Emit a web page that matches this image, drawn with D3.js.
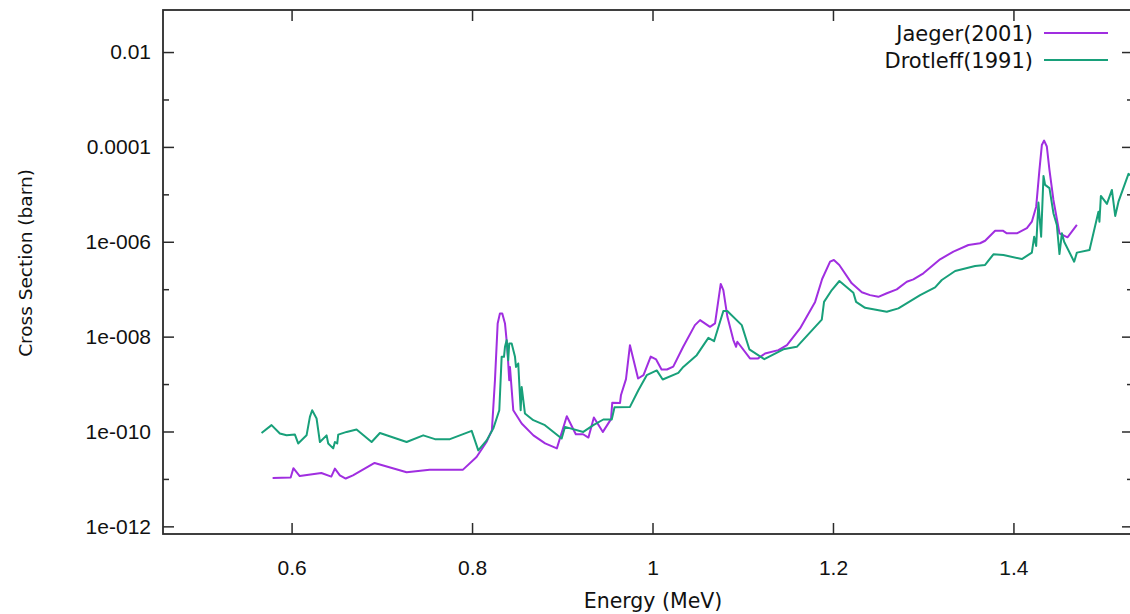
<!DOCTYPE html>
<html>
<head>
<meta charset="utf-8">
<script src="https://cdn.jsdelivr.net/npm/d3@7"></script>
<style>
  body { margin: 0; background: #fff; }
  svg { display: block; font-family: "DejaVu Sans", Verdana, sans-serif; }
  .axis text { font-size: 21px; fill: #111; }
  .axis line { stroke: #2b2b2b; stroke-width: 1.5; }
  .axis path { display: none; }
</style>
</head>
<body>
<svg id="chart" width="1130" height="614"></svg>
<script>
///////////////////////////////////////////////////////////////////////////////
// Data (energy in MeV, cross section in barn)

var jaegerE = [0.579, 0.599, 0.602, 0.609, 0.633, 0.644, 0.648, 0.6535, 0.660, 0.668,
  0.692, 0.7275, 0.753, 0.790, 0.805, 0.816, 0.822, 0.8254, 0.8284, 0.8309,
  0.8335, 0.8365, 0.839, 0.8412, 0.842, 0.8457, 0.855, 0.868, 0.881, 0.894,
  0.905, 0.915, 0.923, 0.929, 0.935, 0.945, 0.954, 0.9554, 0.964, 0.965,
  0.9706, 0.975, 0.984, 0.990, 0.998, 1.004, 1.010, 1.016, 1.023, 1.034,
  1.047, 1.0527, 1.0637, 1.0693, 1.073, 1.0756, 1.0785, 1.083, 1.0896, 1.0926,
  1.094, 1.108, 1.117, 1.1247, 1.1395, 1.149, 1.1635, 1.1802, 1.188, 1.1968,
  1.201, 1.207, 1.2208, 1.232, 1.2411, 1.2503, 1.2597, 1.2707, 1.2818, 1.2891,
  1.3002, 1.3187, 1.3335, 1.3501, 1.363, 1.3686, 1.3797, 1.3882, 1.3927, 1.4038,
  1.4149, 1.4204, 1.4252, 1.4288, 1.4315, 1.434, 1.437, 1.4399, 1.4443, 1.451,
  1.4599, 1.4703];
var jaegerXS = [1.05e-11, 1.07e-11, 1.68e-11, 1.15e-11, 1.33e-11, 1.12e-11, 1.65e-11, 1.19e-11, 1.02e-11, 1.19e-11,
  2.17e-11, 1.38e-11, 1.57e-11, 1.57e-11, 2.9e-11, 6.0e-11, 1.06e-10, 1.21e-9, 1.9e-8, 3.09e-8,
  3.09e-8, 1.9e-8, 6.1e-9, 1.21e-9, 2.3e-9, 2.8e-10, 1.47e-10, 8.3e-11, 5.6e-11, 4.4e-11,
  2.1e-10, 8.75e-11, 8.75e-11, 7.46e-11, 1.97e-10, 9.8e-11, 1.82e-10, 4.05e-10, 4.0e-10, 5.8e-10,
  1.27e-9, 6.6e-9, 1.31e-9, 1.54e-9, 3.8e-9, 3.3e-9, 2.03e-9, 2.03e-9, 2.33e-9, 6.1e-9,
  1.75e-8, 2.23e-8, 1.61e-8, 1.9e-8, 5.9e-8, 1.29e-7, 9.6e-8, 2.62e-8, 8.45e-9, 6.1e-9,
  7.8e-9, 3.47e-9, 3.47e-9, 4.4e-9, 5.2e-9, 6.6e-9, 1.49e-8, 5.4e-8, 1.64e-7, 3.8e-7,
  4.12e-7, 3.24e-7, 1.33e-7, 8.6e-8, 7.5e-8, 6.9e-8, 8.2e-8, 9.9e-8, 1.44e-7, 1.61e-7,
  2.16e-7, 4.27e-7, 6.2e-7, 8.55e-7, 9.3e-7, 1.05e-6, 1.71e-6, 1.71e-6, 1.51e-6, 1.51e-6,
  1.93e-6, 2.65e-6, 5.5e-6, 3.27e-5, 1.1e-4, 1.36e-4, 1.02e-4, 3.27e-5, 7.6e-6, 1.51e-6,
  1.24e-6, 2.26e-6];

var drotleffE = [0.5667, 0.5778, 0.587, 0.5945, 0.6037, 0.6073, 0.6166, 0.6203, 0.6228, 0.6277,
  0.6314, 0.6388, 0.6406, 0.6461, 0.648, 0.6506, 0.6517, 0.661, 0.672, 0.6887,
  0.6979, 0.7275, 0.7459, 0.7589, 0.7755, 0.7996, 0.8069, 0.8162, 0.8235, 0.8302,
  0.8328, 0.8354, 0.8365, 0.8384, 0.8401, 0.8412, 0.8439, 0.8476, 0.8487, 0.8512,
  0.8539, 0.855, 0.8586, 0.8679, 0.8808, 0.8993, 0.903, 0.9233, 0.9344, 0.9455,
  0.9548, 0.9579, 0.975, 0.9843, 0.9936, 1.0047, 1.0113, 1.0286, 1.0341, 1.049,
  1.0619, 1.0682, 1.0785, 1.0829, 1.0989, 1.1073, 1.1239, 1.145, 1.1599, 1.1876,
  1.1901, 1.1987, 1.2071, 1.2226, 1.2256, 1.2356, 1.2596, 1.2725, 1.2966, 1.3132,
  1.3206, 1.3354, 1.3575, 1.3686, 1.3778, 1.3889, 1.4093, 1.4204, 1.423, 1.4252,
  1.4277, 1.4307, 1.4333, 1.4351, 1.4399, 1.4443, 1.4481, 1.451, 1.4537, 1.4562,
  1.4673, 1.4703, 1.4843, 1.4942, 1.4953, 1.4969, 1.5036, 1.5091, 1.5128, 1.5164,
  1.5275, 1.533, 1.5405];
var drotleffXS = [9.3e-11, 1.36e-10, 9.06e-11, 8.3e-11, 8.6e-11, 5.6e-11, 8.3e-11, 2.03e-10, 2.8e-10, 1.88e-10,
  6.0e-11, 8.3e-11, 5.6e-11, 4.4e-11, 6.0e-11, 5.6e-11, 8.6e-11, 9.8e-11, 1.1e-10, 6.0e-11,
  9.3e-11, 6.0e-11, 8.3e-11, 6.9e-11, 6.9e-11, 1.03e-10, 4.0e-11, 6.5e-11, 1.15e-10, 2.8e-10,
  3.75e-9, 3.75e-9, 6.1e-9, 8.45e-9, 3.19e-9, 7.2e-9, 7.2e-9, 3.75e-9, 2.3e-9, 2.72e-9,
  2.8e-10, 8.7e-10, 2.4e-10, 1.73e-10, 1.36e-10, 7.1e-11, 1.25e-10, 9.8e-11, 1.36e-10, 1.79e-10,
  1.79e-10, 3.25e-10, 3.3e-10, 7.4e-10, 1.54e-9, 1.94e-9, 1.25e-9, 1.72e-9, 2.3e-9, 4.07e-9,
  9.4e-9, 8.0e-9, 3.46e-8, 3.46e-8, 1.75e-8, 5.4e-9, 3.35e-9, 5.4e-9, 6.1e-9, 2.29e-8,
  5.4e-8, 9.6e-8, 1.49e-7, 8.4e-8, 5.4e-8, 4.05e-8, 3.34e-8, 3.94e-8, 7.5e-8, 1.09e-7,
  1.56e-7, 2.42e-7, 3.08e-7, 3.24e-7, 5.45e-7, 5.26e-7, 4.32e-7, 5.9e-7, 1.28e-6, 8.15e-7,
  6.7e-6, 1.28e-6, 2.45e-5, 1.58e-5, 1.35e-5, 4.0e-6, 2.26e-6, 5.5e-7, 1.51e-6, 1.0e-6,
  3.8e-7, 5.9e-7, 6.7e-7, 4.3e-6, 2.65e-6, 9.25e-6, 6.3e-6, 1.24e-5, 3.5e-6, 7.0e-6,
  2.7e-5, 2.33e-5, 2.0e-5];

var xTicks = [0.6, 0.8, 1, 1.2, 1.4];
var xTickLabels = ["0.6", "0.8", "1", "1.2", "1.4"];
var yTicks = [1e-12, 1e-10, 1e-8, 1e-6, 1e-4, 1e-2];
var yTickLabels = ["1e-012", "1e-010", "1e-008", "1e-006", "0.0001", "0.01"];
var yMinorTicks = [1e-11, 1e-9, 1e-7, 1e-5, 1e-3];

var seriesNames = ["Jaeger(2001)", "Drotleff(1991)"];
var seriesColors = ["#a02ee0", "#18a07a"];

///////////////////////////////////////////////////////////////////////////////
// Layout

var plotLeft = 163, plotRight = 1133, plotTop = 10, plotBottom = 534;

var svg = d3.select("#chart");

var x = d3.scaleLinear().domain([0.4575, 1.5325]).range([plotLeft, plotRight]);
var y = d3.scaleLog().domain([6.9e-13, 0.077]).range([plotBottom, plotTop]);

svg.append("defs").append("clipPath").attr("id", "plotClip")
  .append("rect")
  .attr("x", plotLeft).attr("y", plotTop)
  .attr("width", plotRight - plotLeft).attr("height", plotBottom - plotTop);

///////////////////////////////////////////////////////////////////////////////
// Axes (gnuplot style: ticks inside, mirrored on top / right)

var fmtX = function (d) { return xTickLabels[xTicks.indexOf(d)]; };
var fmtY = function (d) { return yTickLabels[yTicks.indexOf(d)]; };

svg.append("g").attr("class", "axis")
  .attr("transform", "translate(0," + plotBottom + ")")
  .call(d3.axisBottom(x).tickValues(xTicks).tickFormat(fmtX).tickSize(-11).tickPadding(26));

svg.append("g").attr("class", "axis")
  .attr("transform", "translate(0," + plotTop + ")")
  .call(d3.axisTop(x).tickValues(xTicks).tickFormat("").tickSize(-11));

svg.append("g").attr("class", "axis")
  .attr("transform", "translate(" + plotLeft + ",0)")
  .call(d3.axisLeft(y).tickValues(yTicks).tickFormat(fmtY).tickSize(-11).tickPadding(12));

svg.append("g").attr("class", "axis")
  .attr("transform", "translate(" + plotLeft + ",0)")
  .call(d3.axisLeft(y).tickValues(yMinorTicks).tickFormat("").tickSize(-6));

svg.append("g").attr("class", "axis")
  .attr("transform", "translate(" + plotRight + ",0)")
  .call(d3.axisRight(y).tickValues(yTicks).tickFormat("").tickSize(-11));

svg.append("g").attr("class", "axis")
  .attr("transform", "translate(" + plotRight + ",0)")
  .call(d3.axisRight(y).tickValues(yMinorTicks).tickFormat("").tickSize(-6));

// frame
svg.append("rect")
  .attr("x", plotLeft).attr("y", plotTop)
  .attr("width", plotRight - plotLeft).attr("height", plotBottom - plotTop)
  .attr("fill", "none").attr("stroke", "#2b2b2b").attr("stroke-width", 1.8);

// axis titles
svg.append("text")
  .attr("x", 653).attr("y", 608)
  .attr("text-anchor", "middle")
  .style("font-size", "20.5px").style("fill", "#111")
  .text("Energy (MeV)");

svg.append("text")
  .attr("transform", "translate(32,263) rotate(-90)")
  .attr("text-anchor", "middle")
  .style("font-size", "18.5px").style("fill", "#111")
  .text("Cross Section (barn)");

///////////////////////////////////////////////////////////////////////////////
// Curves

var line = d3.line()
  .x(function (d) { return x(d[0]); })
  .y(function (d) { return y(d[1]); });

var series = [
  d3.zip(jaegerE, jaegerXS),
  d3.zip(drotleffE, drotleffXS)
];

svg.append("g").attr("clip-path", "url(#plotClip)")
  .selectAll("path")
  .data(series)
  .enter().append("path")
  .attr("d", line)
  .attr("fill", "none")
  .attr("stroke", function (d, i) { return seriesColors[i]; })
  .attr("stroke-width", 2)
  .attr("stroke-linejoin", "round");

///////////////////////////////////////////////////////////////////////////////
// Legend (top right, text then sample line)

var legend = svg.append("g").selectAll("g")
  .data(seriesNames)
  .enter().append("g")
  .attr("transform", function (d, i) { return "translate(0," + (33 + i * 27) + ")"; });

legend.append("text")
  .attr("x", 1033).attr("y", 7.5)
  .attr("text-anchor", "end")
  .style("font-size", "21px").style("fill", "#111")
  .text(function (d) { return d; });

legend.append("line")
  .attr("x1", 1044).attr("x2", 1108)
  .attr("stroke", function (d, i) { return seriesColors[i]; })
  .attr("stroke-width", 2);
</script>
</body>
</html>
